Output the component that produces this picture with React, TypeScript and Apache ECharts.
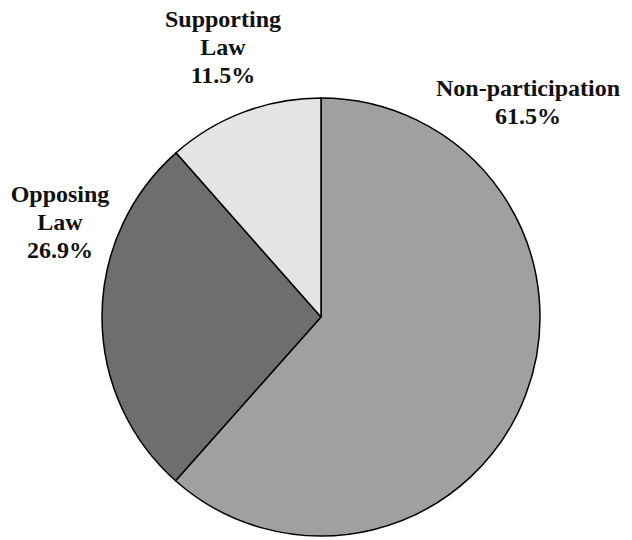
import React, { useEffect, useRef } from "react";
import * as echarts from "echarts";

const categories = ["Non-participation", "Opposing\nLaw", "Supporting\nLaw"];
const values = [61.5, 26.9, 11.5];
const colors = ["#a0a0a0", "#6e6e6e", "#e4e4e4"];
const labelPos: [number, number][] = [
  [528, 102],
  [60, 222],
  [223, 47],
];

export default function App() {
  const ref = useRef<HTMLDivElement>(null);
  useEffect(() => {
    if (!ref.current) return;
    const chart = echarts.init(ref.current, undefined, { renderer: "svg" });
    chart.setOption({
      animation: false,
      backgroundColor: "#ffffff",
      series: [
        {
          type: "pie",
          center: [321, 317],
          radius: 219,
          startAngle: 90,
          clockwise: true,
          avoidLabelOverlap: false,
          data: categories.map((c, i) => ({
            name: c,
            value: values[i],
            itemStyle: { color: colors[i] },
          })),
          itemStyle: { borderColor: "#000", borderWidth: 1.5 },
          label: {
            show: true,
            position: "outside",
            formatter: (p: any) => `${p.name}\n${p.value}%`,
            fontFamily: "'Liberation Serif', 'DejaVu Serif', serif",
            fontWeight: "bold",
            fontSize: 24,
            lineHeight: 28,
            color: "#111",
            align: "center",
          },
          labelLine: { show: false },
          labelLayout: (params: any) => {
            const p = labelPos[params.dataIndex];
            return { x: p[0], y: p[1], align: "center", verticalAlign: "middle" };
          },
          emphasis: { disabled: true },
        },
      ],
    });
    return () => chart.dispose();
  }, []);
  return (
    <div
      ref={ref}
      style={{ position: "fixed", left: 0, top: 0, width: 632, height: 540 }}
    />
  );
}
